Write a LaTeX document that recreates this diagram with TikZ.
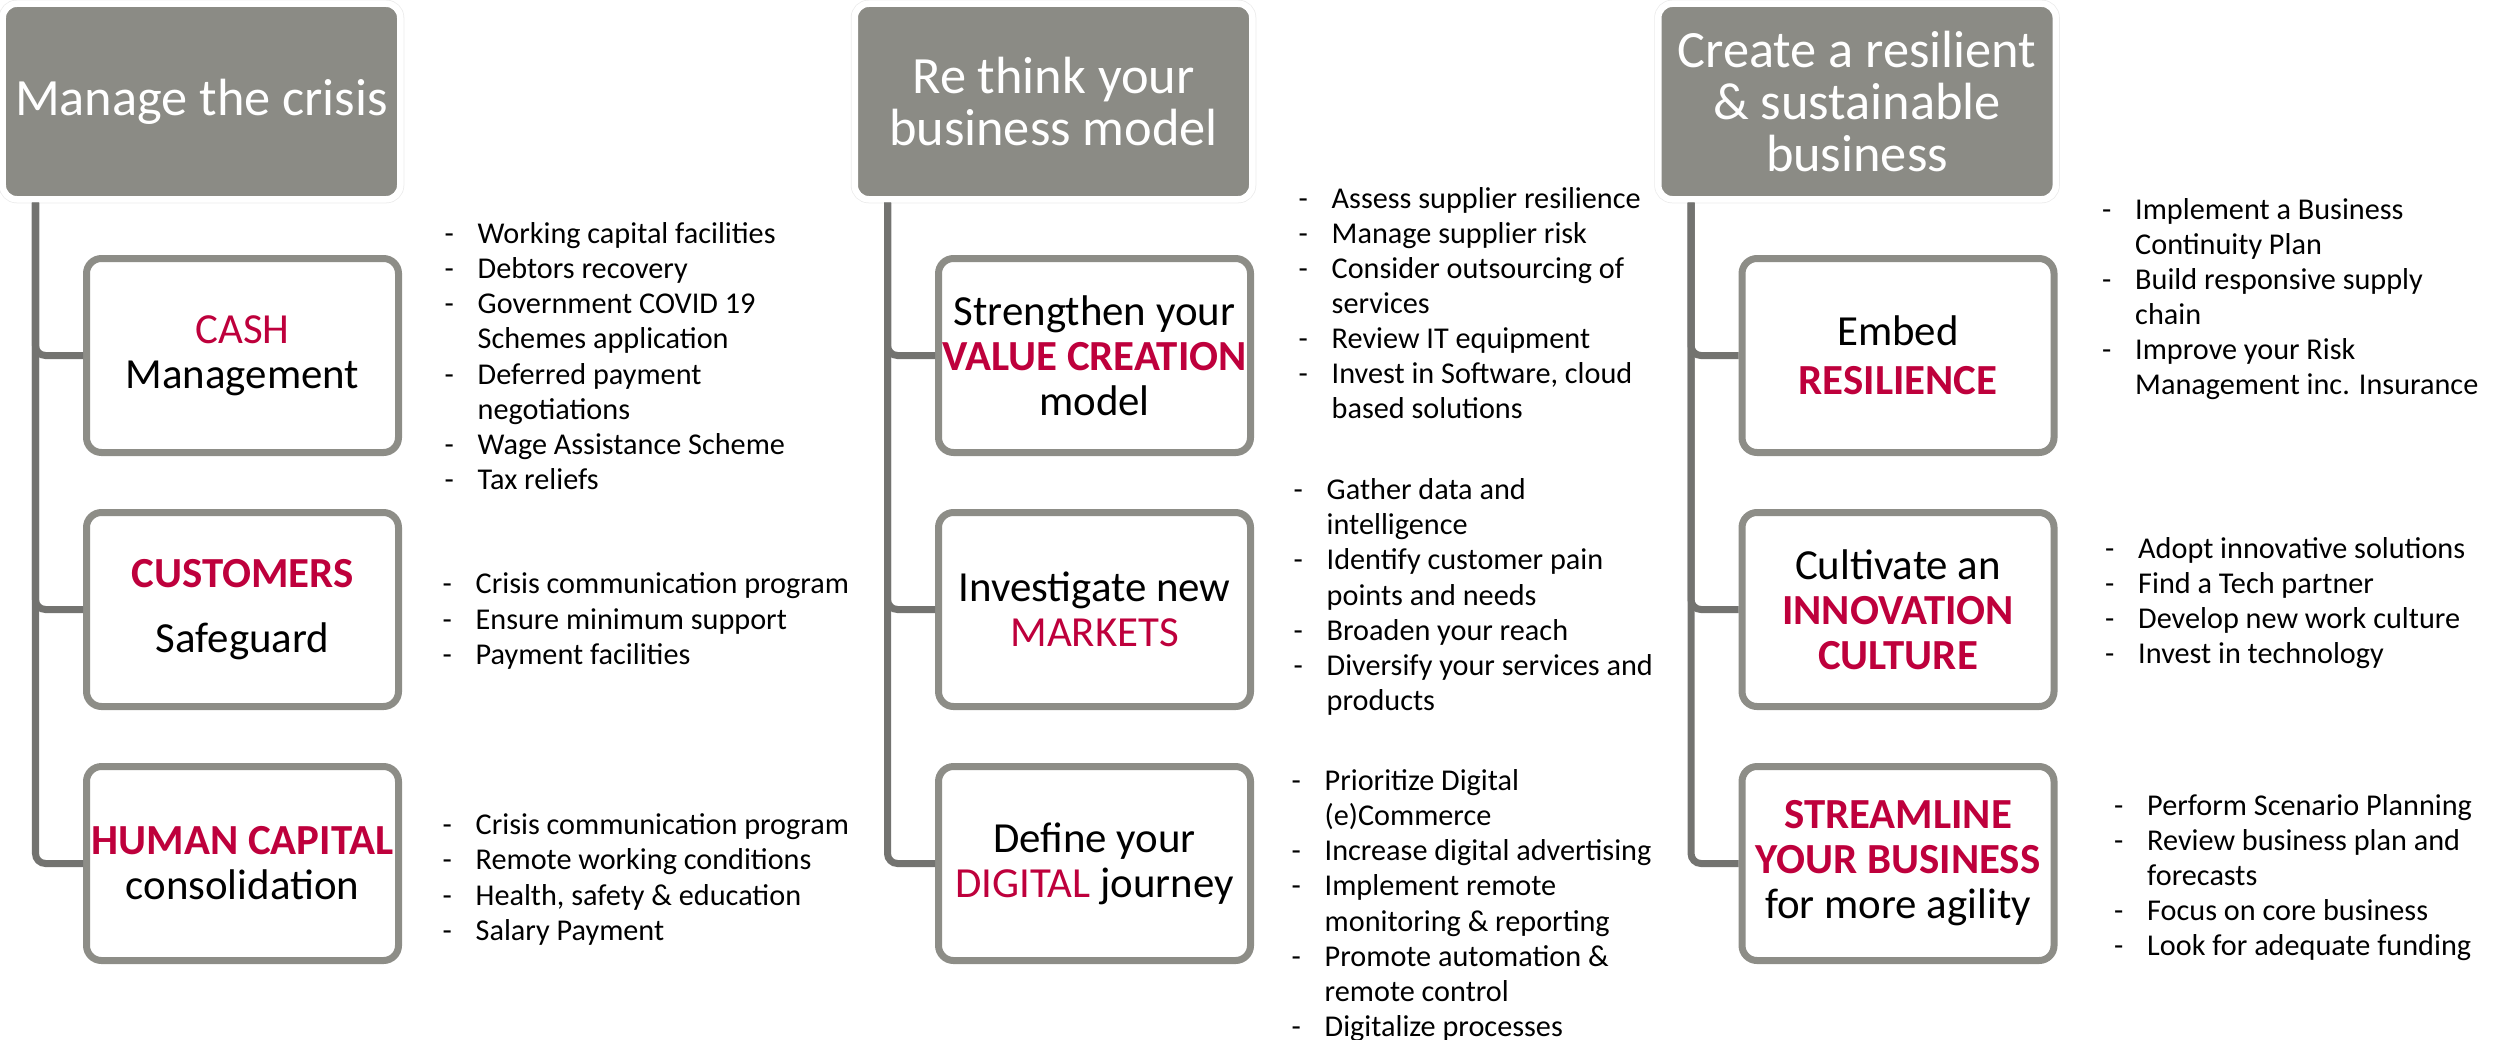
\documentclass[tikz,border=0pt]{standalone}
\usepackage{fontspec}
\setmainfont{Carlito}
\usetikzlibrary{trees,positioning}

\definecolor{headgray}{HTML}{8B8B85}
\definecolor{linegray}{HTML}{737370}
\definecolor{boxgray}{HTML}{8D8D87}
\definecolor{crimson}{HTML}{BE003C}
\newcommand{\redtxt}[1]{\textcolor{crimson}{#1}}

\begin{document}
\begin{tikzpicture}[
            grow via three points={one child at (0.41,-2.54) and two children at (0.41,-2.54) and (0.41,-5.08)},
            edge from parent/.style={draw=linegray,line width=0.07cm,rounded corners=1mm},
            edge from parent path={([xshift=0.36cm]\tikzparentnode.south west) |- (\tikzchildnode.west)}]
            \tikzstyle{head}=[rectangle,rounded corners=0.14cm,fill=headgray,draw=white,line width=0.065cm,
                preaction={draw=black!8,line width=0.08cm},minimum width=3.975cm,minimum height=1.955cm,
                inner sep=0pt,align=center,text=white,font=\fontsize{14.9}{14.9}\selectfont]
            \tikzstyle{box}=[rectangle,rounded corners=0.15cm,draw=boxgray,line width=0.07cm,fill=white,
                minimum width=3.12cm,minimum height=1.94cm,inner sep=0pt,align=center,
                font=\fontsize{12.2}{12.8}\selectfont]
            \tikzstyle{items}=[inner sep=0pt,font=\fontsize{8.6}{10}\selectfont]
            \useasboundingbox (0,0) rectangle (25.04,-10.39);
            % column 1
            \node[head] (crisis) at (2.015,-1.015) {Manage the crisis}
                child{node[box] (cash) {\redtxt{CASH}\\Management}}
                child{node[box] (customers) {\redtxt{\textbf{CUSTOMERS}}\\[5.5pt]Safeguard}}
                child{node[box] (human) {\redtxt{\textbf{HUMAN CAPITAL}}\\consolidation}};
            \node[items,right=0.42cm of cash,yshift=-0.04cm] (cashlist) {%
                \begin{tabular}{@{}p{0.33cm}@{}l@{}}
                - & Working capital facilities\\
                - & Debtors recovery\\
                - & Government COVID 19\\
                  & Schemes application\\
                - & Deferred payment\\
                  & negotiations\\
                - & Wage Assistance Scheme\\
                - & Tax reliefs
                \end{tabular}};
            \node[items,right=0.40cm of customers,yshift=-0.125cm] (customerslist) {%
                \begin{tabular}{@{}p{0.33cm}@{}l@{}}
                - & Crisis communication program\\
                - & Ensure minimum support\\
                - & Payment facilities
                \end{tabular}};
            \node[items,right=0.40cm of human,yshift=-0.17cm] (humanlist) {%
                \begin{tabular}{@{}p{0.33cm}@{}l@{}}
                - & Crisis communication program\\
                - & Remote working conditions\\
                - & Health, safety \& education\\
                - & Salary Payment
                \end{tabular}};
            % column 2
            \node[head] (rethink) at (10.535,-1.015) {Re think your\\business model}
                child{node[box] (value) {Strengthen your\\\redtxt{\textbf{VALUE CREATION}}\\model}}
                child{node[box] (markets) {Investigate new\\\redtxt{MARKETS}}}
                child{node[box] (digital) {Define your\\\redtxt{DIGITAL} journey}};
            \node[items,right=0.44cm of value,yshift=0.49cm] (valuelist) {%
                \begin{tabular}{@{}p{0.33cm}@{}l@{}}
                - & Assess supplier resilience\\
                - & Manage supplier risk\\
                - & Consider outsourcing of\\
                  & services\\
                - & Review IT equipment\\
                - & Invest in Software, cloud\\
                  & based solutions
                \end{tabular}};
            \node[items,right=0.39cm of markets,yshift=0.115cm] (marketslist) {%
                \begin{tabular}{@{}p{0.33cm}@{}l@{}}
                - & Gather data and\\
                  & intelligence\\
                - & Identify customer pain\\
                  & points and needs\\
                - & Broaden your reach\\
                - & Diversify your services and\\
                  & products
                \end{tabular}};
            \node[items,right=0.37cm of digital,yshift=-0.43cm] (digitallist) {%
                \begin{tabular}{@{}p{0.33cm}@{}l@{}}
                - & Prioritize Digital\\
                  & (e)Commerce\\
                - & Increase digital advertising\\
                - & Implement remote\\
                  & monitoring \& reporting\\
                - & Promote automation \&\\
                  & remote control\\
                - & Digitalize processes
                \end{tabular}};
            % column 3
            \node[head] (resilient) at (18.57,-1.015) {Create a resilient\\\& sustainable\\business}
                child{node[box] (resil) {Embed\\[1pt]\redtxt{\textbf{RESILIENCE}}}}
                child{node[box] (innov) {Cultivate an\\\redtxt{\textbf{INNOVATION}}\\\redtxt{\textbf{CULTURE}}}}
                child{node[box] (stream) {\redtxt{\textbf{STREAMLINE}}\\\redtxt{\textbf{YOUR BUSINESS}}\\for more agility}};
            \node[items,right=0.44cm of resil,yshift=0.555cm] (resillist) {%
                \begin{tabular}{@{}p{0.33cm}@{}l@{}}
                - & Implement a Business\\
                  & Continuity Plan\\
                - & Build responsive supply\\
                  & chain\\
                - & Improve your Risk\\
                  & Management inc. Insurance
                \end{tabular}};
            \node[items,right=0.47cm of innov,yshift=0.055cm] (innovlist) {%
                \begin{tabular}{@{}p{0.33cm}@{}l@{}}
                - & Adopt innovative solutions\\
                - & Find a Tech partner\\
                - & Develop new work culture\\
                - & Invest in technology
                \end{tabular}};
            \node[items,right=0.56cm of stream,yshift=-0.15cm] (streamlist) {%
                \begin{tabular}{@{}p{0.33cm}@{}l@{}}
                - & Perform Scenario Planning\\
                - & Review business plan and\\
                  & forecasts\\
                - & Focus on core business\\
                - & Look for adequate funding
                \end{tabular}};
        \end{tikzpicture}
\end{document}
